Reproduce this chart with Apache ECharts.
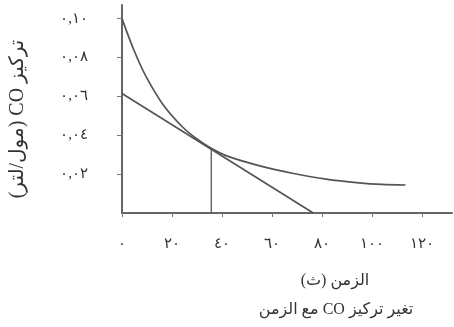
<!DOCTYPE html>
<html>
<head>
<meta charset="utf-8">
<script src="https://cdn.jsdelivr.net/npm/echarts@6/dist/echarts.min.js"></script>
<style>
  html, body { margin: 0; padding: 0; background: #fff; }
</style>
</head>
<body>
<div id="chart" dir="rtl" style="width:454px;height:327px"></div>
<script>
// منحنى تركيز CO مع الزمن (قراءة من الرسم)
const curveTime = [0, 4.7, 9.7, 16.3, 24, 29, 35.7, 42.7, 55.9, 68.7, 81.6, 94.8, 104, 113.4];
const curveConc = [0.100, 0.084, 0.070, 0.056, 0.0445, 0.039, 0.0333, 0.0290, 0.0240, 0.0203, 0.0174, 0.0155, 0.0147, 0.0144];

// المماس عند t = 35.7 ث
const tangentTime = [0, 76.5];
const tangentConc = [0.0615, 0];

// الخط العمودي من نقطة التماس
const dropTime = [35.7, 35.7];
const dropConc = [0, 0.0333];

// تدريج المحاور
const xTickValues = [0, 20, 40, 60, 80, 100, 120];
const xTickLabels = ['٠', '٢٠', '٤٠', '٦٠', '٨٠', '١٠٠', '١٢٠'];
const yTickValues = [0.02, 0.04, 0.06, 0.08, 0.10];
const yTickLabels = ['٠,٠٢', '٠,٠٤', '٠,٠٦', '٠,٠٨', '٠,١٠'];

const zip = (xs, ys) => xs.map((x, i) => [x, ys[i]]);

const FONT = "'Liberation Serif', 'DejaVu Sans', serif";
const INK = '#555';

const chart = echarts.init(document.getElementById('chart'));

const options = {
    animation: false,
    backgroundColor: '#fff',
    title: {
        text: 'تغير تركيز CO مع الزمن',
        left: 331,
        top: 297,
        textAlign: 'center',
        textStyle: { fontFamily: FONT, fontSize: 16, fontWeight: 'normal', color: '#333' },
    },
    grid: { left: 113, right: 2, top: 5, bottom: 114 },
    xAxis: {
        type: 'value',
        min: 0,
        max: 132,
        name: 'الزمن (ث)',
        nameLocation: 'middle',
        nameGap: 60,
        nameTextStyle: { fontFamily: FONT, fontSize: 16, color: '#333', padding: [0, 0, 0, 96] },
        axisLine: { lineStyle: { color: '#666', width: 2 } },
        axisTick: { customValues: xTickValues, length: 4, lineStyle: { color: '#777' } },
        axisLabel: {
            customValues: xTickValues,
            margin: 24,
            fontFamily: FONT,
            fontSize: 15,
            color: '#333',
            formatter: v => xTickLabels[xTickValues.indexOf(v)],
        },
        splitLine: { show: false },
    },
    yAxis: {
        type: 'value',
        min: 0,
        max: 0.107,
        name: 'تركيز CO (مول/لتر)',
        nameLocation: 'middle',
        nameGap: 94,
        nameTextStyle: { fontFamily: FONT, fontSize: 20, color: '#333', padding: [0, 20, 0, 0] },
        axisLine: { lineStyle: { color: '#666', width: 2 } },
        axisTick: { customValues: yTickValues, length: 5, lineStyle: { color: '#777' } },
        axisLabel: {
            customValues: yTickValues,
            margin: 34,
            fontFamily: FONT,
            fontSize: 15,
            color: '#333',
            formatter: v => yTickLabels[yTickValues.indexOf(v)],
        },
        splitLine: { show: false },
    },
    series: [
        {
            name: 'curve',
            type: 'line',
            data: zip(curveTime, curveConc),
            smooth: 0.3,
            symbol: 'none',
            lineStyle: { color: INK, width: 1.7 },
        },
        {
            name: 'tangent',
            type: 'line',
            data: zip(tangentTime, tangentConc),
            symbol: 'none',
            lineStyle: { color: INK, width: 1.7 },
        },
        {
            name: 'drop',
            type: 'line',
            data: zip(dropTime, dropConc),
            symbol: 'none',
            lineStyle: { color: INK, width: 1.3 },
        },
    ],
};

chart.setOption(options);
</script>
</body>
</html>
